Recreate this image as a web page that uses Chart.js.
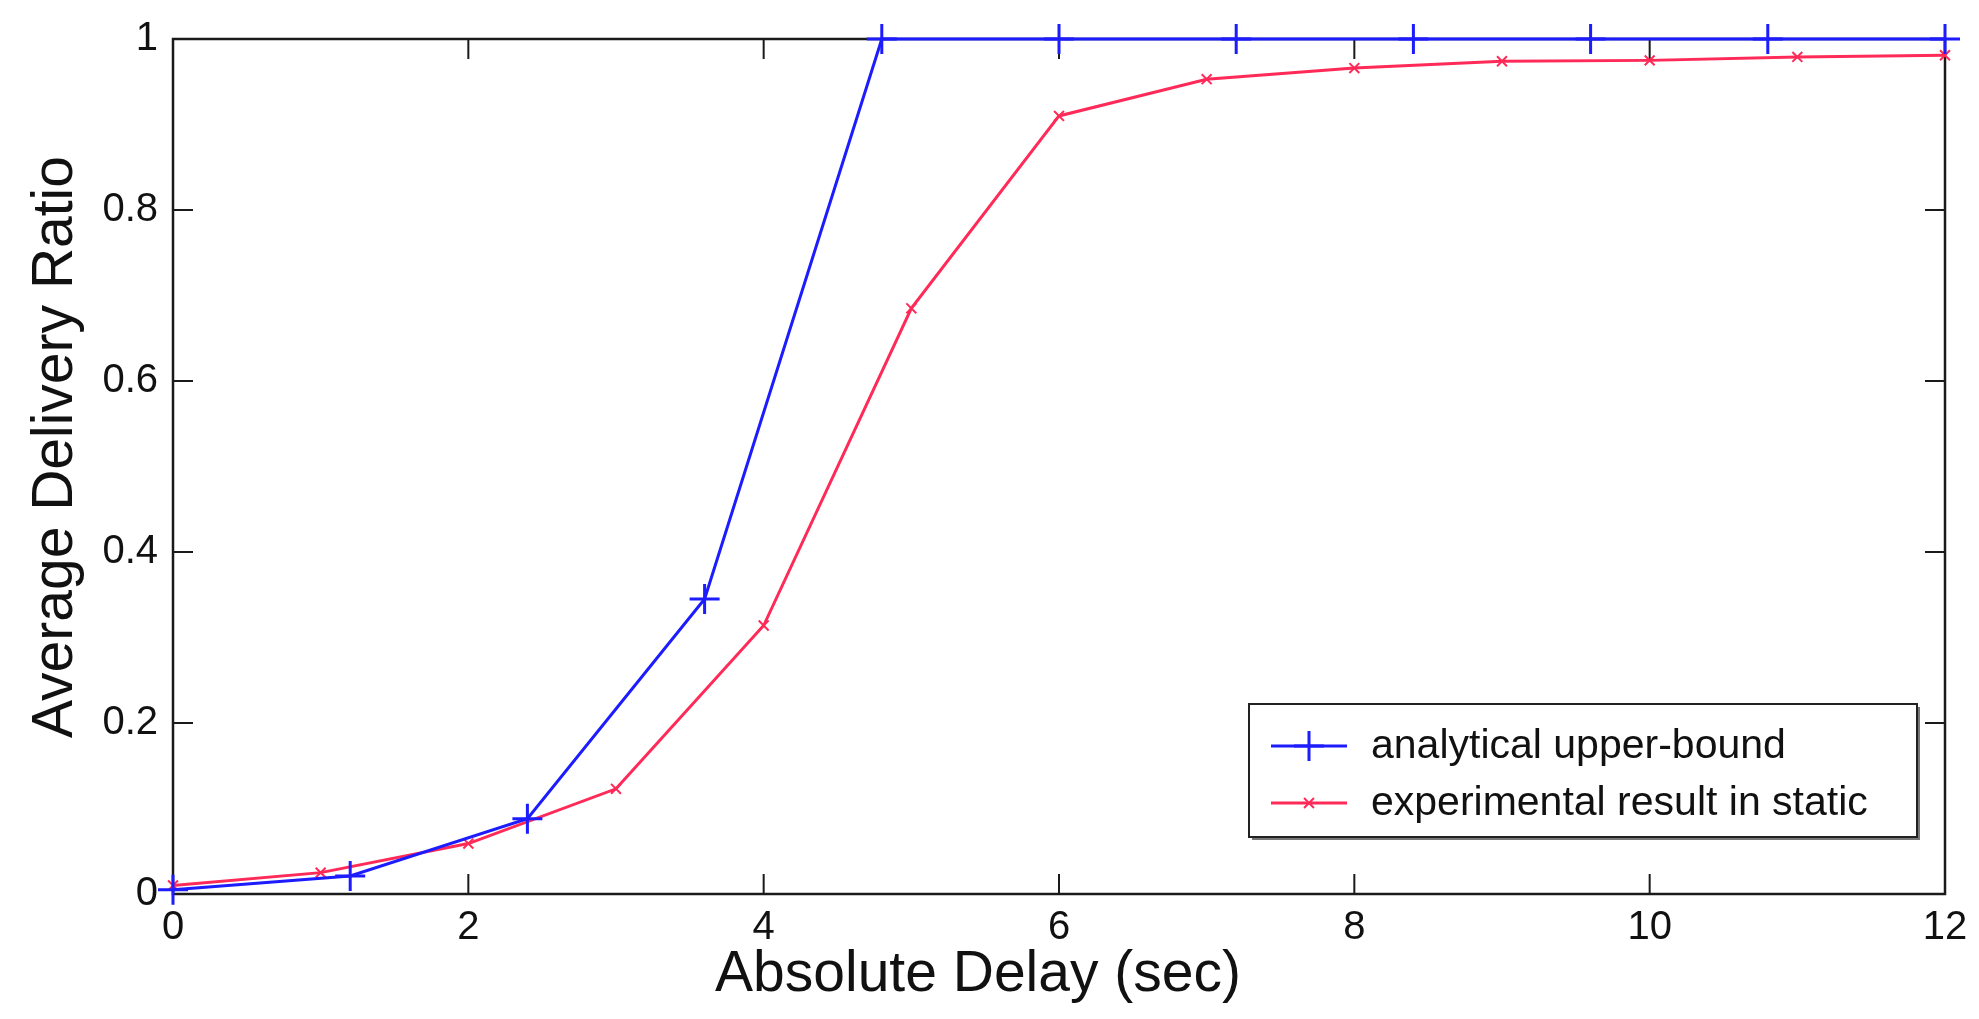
<!DOCTYPE html>
<html>
<head>
<meta charset="utf-8">
<script src="https://cdn.jsdelivr.net/npm/chart.js@4.4.1/dist/chart.umd.min.js"></script>
<style>
html,body{margin:0;padding:0;background:#fff;}
#wrap{width:1979px;height:1019px;position:relative;}
</style>
</head>
<body>
<div id="wrap"><canvas id="c"></canvas></div>
<script>
// ---- data ----
const xTickLabels = ['0','2','4','6','8','10','12'];
const yTickLabels = ['0','0.2','0.4','0.6','0.8','1'];
const boundX = [0, 1.2, 2.4, 3.6, 4.8, 6.0, 7.2, 8.4, 9.6, 10.8, 12.0];
const boundY = [0.005, 0.021, 0.088, 0.345, 1, 1, 1, 1, 1, 1, 1];
const expX = [0, 1, 2, 3, 4, 5, 6, 7, 8, 9, 10, 11, 12];
const expY = [0.010, 0.025, 0.059, 0.123, 0.314, 0.685, 0.910, 0.953, 0.966, 0.974, 0.975, 0.979, 0.981];
const seriesNames = ['analytical upper-bound', 'experimental result in static'];
const xTitle = 'Absolute Delay (sec)';
const yTitle = 'Average Delivery Ratio';

const BLUE = '#1c1cff';
const RED = '#ff2a58';
const FONT = '"Liberation Sans", Arial, Helvetica, sans-serif';

function toPoints(xs, ys) { return xs.map((v, i) => ({x: v, y: ys[i]})); }

function drawMarker(ctx, style, cx, cy, r, color, lw) {
  ctx.save();
  ctx.strokeStyle = color; ctx.lineWidth = lw;
  ctx.beginPath();
  if (style === 'cross') {
    ctx.moveTo(cx - r, cy); ctx.lineTo(cx + r, cy);
    ctx.moveTo(cx, cy - r); ctx.lineTo(cx, cy + r);
  } else {
    const d = r * Math.SQRT1_2;
    ctx.moveTo(cx - d, cy - d); ctx.lineTo(cx + d, cy + d);
    ctx.moveTo(cx - d, cy + d); ctx.lineTo(cx + d, cy - d);
  }
  ctx.stroke();
  ctx.restore();
}

const framePlugin = {
  id: 'frame',
  beforeDatasetsDraw(chart) {
    const {ctx, chartArea: a, scales: {x, y}} = chart;
    ctx.save();
    ctx.strokeStyle = '#1a1a1a';
    ctx.lineWidth = 2.5;
    ctx.strokeRect(a.left, a.top, a.right - a.left, a.bottom - a.top);
    const L = 20;
    ctx.lineWidth = 2;
    ctx.beginPath();
    xTickLabels.forEach(l => {
      const px = x.getPixelForValue(parseFloat(l));
      ctx.moveTo(px, a.bottom); ctx.lineTo(px, a.bottom - L);
      ctx.moveTo(px, a.top); ctx.lineTo(px, a.top + L);
    });
    yTickLabels.forEach(l => {
      const py = y.getPixelForValue(parseFloat(l));
      ctx.moveTo(a.left, py); ctx.lineTo(a.left + L, py);
      ctx.moveTo(a.right, py); ctx.lineTo(a.right - L, py);
    });
    ctx.stroke();
    ctx.restore();
  },
  afterDraw(chart) {
    const {ctx, chartArea: a} = chart;
    ctx.save();
    ctx.fillStyle = '#111';
    // x title
    ctx.font = '57px ' + FONT;
    ctx.textAlign = 'center';
    ctx.textBaseline = 'alphabetic';
    ctx.fillText(xTitle, a.left + 805, 991);
    // y title
    ctx.save();
    ctx.translate(72, a.top + 408);
    ctx.rotate(-Math.PI / 2);
    ctx.fillText(yTitle, 0, 0);
    ctx.restore();

    // legend box
    const bx = a.right - 696, by = a.top + 665, bw = 668, bh = 133;
    ctx.fillStyle = '#fff';
    ctx.fillRect(bx, by, bw, bh);
    ctx.strokeStyle = '#777';
    ctx.lineWidth = 4;
    ctx.beginPath();
    ctx.moveTo(bx + 3, by + bh + 1); ctx.lineTo(bx + bw + 1, by + bh + 1); ctx.lineTo(bx + bw + 1, by + 3);
    ctx.stroke();
    ctx.strokeStyle = '#222';
    ctx.lineWidth = 2;
    ctx.strokeRect(bx, by, bw, bh);

    const rows = [by + 42, by + 99];
    const styles = [
      {color: BLUE, marker: 'cross', r: 15, mlw: 3},
      {color: RED, marker: 'crossRot', r: 7, mlw: 2}
    ];
    ctx.font = '41px ' + FONT;
    ctx.textAlign = 'left';
    ctx.textBaseline = 'middle';
    rows.forEach((ry, i) => {
      const s = styles[i];
      ctx.strokeStyle = s.color; ctx.lineWidth = 3;
      ctx.beginPath(); ctx.moveTo(bx + 22, ry); ctx.lineTo(bx + 98, ry); ctx.stroke();
      drawMarker(ctx, s.marker, bx + 60, ry, s.r, s.color, s.mlw);
      ctx.fillStyle = '#111';
      ctx.fillText(seriesNames[i], bx + 122, ry + 1);
    });
    ctx.restore();
  }
};

new Chart(document.getElementById('c'), {
  type: 'line',
  data: {
    datasets: [
      {
        label: seriesNames[0],
        data: toPoints(boundX, boundY),
        borderColor: BLUE, backgroundColor: BLUE,
        borderWidth: 3, pointStyle: 'cross', pointRadius: 15, pointBorderWidth: 3,
        pointHoverRadius: 15, tension: 0, clip: false, fill: false
      },
      {
        label: seriesNames[1],
        data: toPoints(expX, expY),
        borderColor: RED, backgroundColor: RED,
        borderWidth: 3, pointStyle: 'crossRot', pointRadius: 7, pointBorderWidth: 2,
        pointHoverRadius: 7, tension: 0, clip: false, fill: false
      }
    ]
  },
  options: {
    responsive: true,
    maintainAspectRatio: false,
    animation: false,
    events: [],
    layout: {padding: {left: 0, top: 34, right: 34, bottom: 0}},
    plugins: {legend: {display: false}, tooltip: {enabled: false}, title: {display: false}},
    scales: {
      x: {
        type: 'linear', min: 0, max: 12,
        grid: {display: false, drawTicks: false},
        border: {display: false},
        afterBuildTicks: s => { s.ticks = xTickLabels.map(l => ({value: parseFloat(l)})); },
        afterFit: s => { s.height = 125; },
        ticks: {
          autoSkip: false, maxRotation: 0, padding: 10, color: '#111',
          font: {family: FONT, size: 40},
          callback: (v, i) => xTickLabels[i]
        }
      },
      y: {
        type: 'linear', min: 0, max: 1,
        grid: {display: false, drawTicks: false},
        border: {display: false},
        afterBuildTicks: s => { s.ticks = yTickLabels.map(l => ({value: parseFloat(l)})); },
        afterFit: s => { s.width = 173; },
        ticks: {
          autoSkip: false, padding: 15, color: '#111',
          font: {family: FONT, size: 40},
          callback: (v, i) => yTickLabels[i]
        }
      }
    }
  },
  plugins: [framePlugin]
});
</script>
</body>
</html>
